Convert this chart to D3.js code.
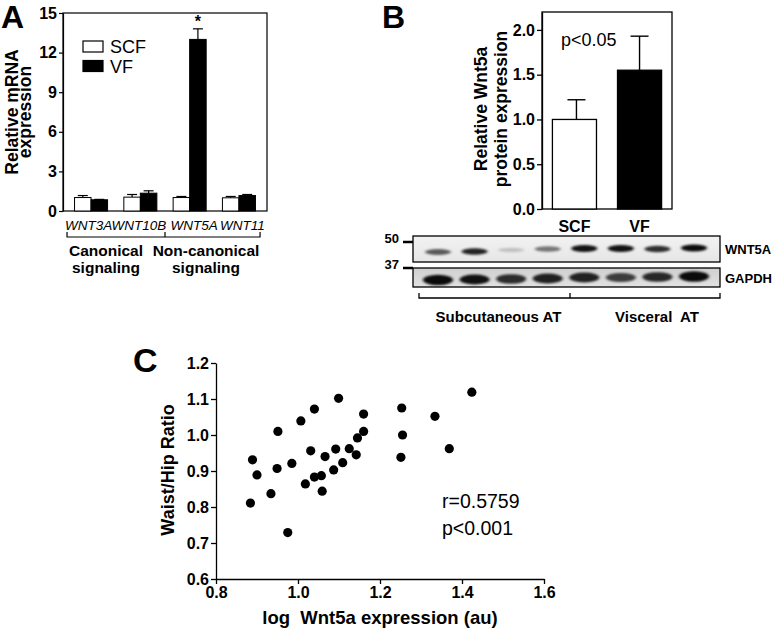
<!DOCTYPE html>
<html><head><meta charset="utf-8">
<script src="https://cdn.jsdelivr.net/npm/d3@7"></script>
<style>
html,body{margin:0;padding:0;background:#fff;}
text{font-family:"Liberation Sans",Arial,Helvetica,sans-serif;fill:#000;}
</style></head>
<body>
<svg id="fig" width="780" height="632"></svg>
<script>
// ---------- Panel A data ----------
const genes = ["WNT3A", "WNT10B", "WNT5A", "WNT11"];
const scfMean = [1.02, 1.05, 1.02, 1.0];
const scfErr = [0.15, 0.2, 0.08, 0.1];
const vfMean = [0.85, 1.35, 13.0, 1.17];
const vfErr = [0.03, 0.18, 0.8, 0.08];
const aTicks = [0, 3, 6, 9, 12, 15];
const aSeries = ["SCF", "VF"];
const aGroupLabels = [["Canonical", "signaling"], ["Non-canonical", "signaling"]];

// ---------- Panel B data ----------
const bGroups = ["SCF", "VF"];
const bMean = [1.0, 1.55];
const bErr = [0.22, 0.38];
const bTicks = [0, 0.5, 1.0, 1.5, 2.0];
const blotLanes = ["S1", "S2", "S3", "S4", "V1", "V2", "V3", "V4"];
const wnt5aBand = [0.62, 0.85, 0.18, 0.5, 0.92, 0.92, 0.8, 0.95];
const gapdhBand = [0.95, 0.92, 0.8, 0.85, 0.85, 0.72, 0.82, 0.95];
const blotProteins = ["WNT5A", "GAPDH"];
const blotMarkers = ["50", "37"];
const blotTissues = ["Subcutaneous AT", "Visceral  AT"];

// ---------- Panel C data ----------
const cX = [0.884, 0.889, 0.900, 0.934, 0.949, 0.951, 0.975, 0.985, 1.007, 1.018,
            1.031, 1.040, 1.040, 1.057, 1.059, 1.066, 1.087, 1.092, 1.099, 1.109,
            1.125, 1.142, 1.145, 1.160, 1.160, 1.251, 1.253, 1.255, 1.334, 1.369, 1.424];
const cY = [0.811, 0.931, 0.889, 0.837, 0.907, 1.010, 0.729, 0.921, 1.039, 0.864,
            0.956, 1.072, 0.883, 0.887, 0.844, 0.940, 0.903, 0.961, 1.102, 0.923,
            0.962, 0.945, 0.992, 1.058, 1.010, 0.938, 1.075, 1.000, 1.052, 0.962, 1.119];
const cXTicks = [0.8, 1.0, 1.2, 1.4, 1.6];
const cYTicks = [0.6, 0.7, 0.8, 0.9, 1.0, 1.1, 1.2];
const cStats = ["r=0.5759", "p<0.001"];

const svg = d3.select("#fig");
const BOLD = "bold";

// ================= Panel A =================
(function () {
  const L = 63, R = 267, T = 13, B = 211;
  const y = d3.scaleLinear().domain([0, 15]).range([B, T]);
  const x = d3.scaleBand().domain(genes).range([L, R]).paddingInner(0.33).paddingOuter(0.234);
  const bw = x.bandwidth() / 2;
  const g = svg.append("g");

  g.append("rect").attr("x", L).attr("y", T).attr("width", R - L).attr("height", B - T)
    .attr("fill", "none").attr("stroke", "#000").attr("stroke-width", 1.2);

  const ax = g.append("g").attr("transform", `translate(${L},0)`)
    .call(d3.axisLeft(y).tickValues(aTicks).tickSize(4).tickSizeOuter(0).tickPadding(2));
  ax.select(".domain").attr("stroke-width", 1.2);
  ax.selectAll(".tick line").attr("stroke-width", 1.2);
  ax.selectAll("text").attr("font-size", 16).attr("font-weight", BOLD)
    .attr("font-family", "Liberation Sans, Arial, sans-serif");

  const data = genes.map((gname, i) => ({ g: gname, s: scfMean[i], se: scfErr[i], v: vfMean[i], ve: vfErr[i] }));
  const bars = [];
  data.forEach(d => {
    bars.push({ x: x(d.g), val: d.s, err: d.se, fill: "#fff" });
    bars.push({ x: x(d.g) + bw, val: d.v, err: d.ve, fill: "#000" });
  });
  bars.forEach(b => {
    const cx = b.x + bw / 2;
    g.append("line").attr("x1", cx).attr("x2", cx).attr("y1", y(b.val)).attr("y2", y(b.val + b.err))
      .attr("stroke", "#000").attr("stroke-width", 1.2);
    g.append("line").attr("x1", cx - 5).attr("x2", cx + 5).attr("y1", y(b.val + b.err)).attr("y2", y(b.val + b.err))
      .attr("stroke", "#000").attr("stroke-width", 1.2);
  });
  g.selectAll("rect.bar").data(bars).join("rect").attr("class", "bar")
    .attr("x", d => d.x).attr("width", bw).attr("y", d => y(d.val)).attr("height", d => B - y(d.val))
    .attr("fill", d => d.fill).attr("stroke", "#000").attr("stroke-width", 1);

  g.append("text").attr("x", x("WNT5A") + bw * 1.5).attr("y", y(vfMean[2] + vfErr[2]) - 2)
    .attr("text-anchor", "middle").attr("font-size", 16).attr("font-weight", BOLD).text("*");

  aSeries.forEach((s, i) => {
    const ly = 41 + i * 19.5;
    g.append("rect").attr("x", 83).attr("y", ly).attr("width", 20).attr("height", 11)
      .attr("fill", i === 0 ? "#fff" : "#000").attr("stroke", "#000").attr("stroke-width", 1.2);
    g.append("text").attr("x", 110).attr("y", ly + 12).attr("font-size", 18).text(s);
  });

  const nudge = [-2.5, -1.5, 4.5, 3.5];
  genes.forEach((gn, i) => {
    g.append("text").attr("x", x(gn) + x.bandwidth() / 2 + nudge[i]).attr("y", 230).attr("text-anchor", "middle")
      .attr("font-size", 13.5).attr("font-style", "italic").text(gn);
  });
  const bl = x(genes[0]) - 7.5, br = x(genes[3]) + x.bandwidth() + 4.6;
  const bm = (x(genes[1]) + x.bandwidth() + x(genes[2])) / 2;
  const by = 237;
  g.append("path").attr("d", `M${bl},${by - 5}V${by}H${br}V${by - 5}M${bm},${by - 5}V${by}`)
    .attr("fill", "none").attr("stroke", "#000").attr("stroke-width", 1.2);
  const lc = [(bl + bm) / 2 - 10, (bm + br) / 2 - 6.5];
  aGroupLabels.forEach((lines, i) => {
    lines.forEach((t, j) => {
      g.append("text").attr("x", lc[i]).attr("y", 256 + j * 17).attr("text-anchor", "middle")
        .attr("font-size", 15.5).attr("font-weight", BOLD).text(t);
    });
  });

  const yl = g.append("g").attr("transform", "translate(18,112) rotate(-90)");
  yl.append("text").attr("text-anchor", "middle").attr("font-size", 17.5).attr("font-weight", BOLD).text("Relative mRNA");
  yl.append("text").attr("y", 13).attr("text-anchor", "middle").attr("font-size", 17.5).attr("font-weight", BOLD).text("expression");

  svg.append("text").attr("x", 1).attr("y", 28).attr("font-size", 32).attr("font-weight", BOLD).text("A");
})();

// ================= Panel B =================
(function () {
  const L = 542, R = 672, T = 12, B = 209;
  const y = d3.scaleLinear().domain([0, 2.2]).range([B, T]);
  const x = d3.scaleBand().domain(bGroups).range([L, R]).paddingInner(0.323).paddingOuter(0.16);
  const g = svg.append("g");

  g.append("rect").attr("x", L).attr("y", T).attr("width", R - L).attr("height", B - T)
    .attr("fill", "none").attr("stroke", "#000").attr("stroke-width", 1.3);

  const ax = g.append("g").attr("transform", `translate(${L},0)`)
    .call(d3.axisLeft(y).tickValues(bTicks).tickFormat(d3.format(".1f")).tickSize(5).tickSizeOuter(0).tickPadding(2));
  ax.select(".domain").attr("stroke-width", 1.3);
  ax.selectAll(".tick line").attr("stroke-width", 1.3);
  ax.selectAll("text").attr("font-size", 16).attr("font-weight", BOLD)
    .attr("font-family", "Liberation Sans, Arial, sans-serif");

  bGroups.forEach((gr, i) => {
    const cx = x(gr) + x.bandwidth() / 2 + (i === 0 ? 2 : 0);
    g.append("line").attr("x1", cx).attr("x2", cx).attr("y1", y(bMean[i])).attr("y2", y(bMean[i] + bErr[i]))
      .attr("stroke", "#000").attr("stroke-width", 1.4);
    g.append("line").attr("x1", cx - 9).attr("x2", cx + 9).attr("y1", y(bMean[i] + bErr[i])).attr("y2", y(bMean[i] + bErr[i]))
      .attr("stroke", "#000").attr("stroke-width", 1.4);
    g.append("rect").attr("x", x(gr)).attr("width", x.bandwidth()).attr("y", y(bMean[i])).attr("height", B - y(bMean[i]))
      .attr("fill", i === 0 ? "#fff" : "#000").attr("stroke", "#000").attr("stroke-width", 1.3);
    g.append("text").attr("x", x(gr) + x.bandwidth() / 2).attr("y", 232).attr("text-anchor", "middle")
      .attr("font-size", 16).attr("font-weight", BOLD).text(gr);
  });
  g.append("text").attr("x", 561).attr("y", 46).attr("font-size", 18).text("p<0.05");

  const yl = g.append("g").attr("transform", "translate(487,109) rotate(-90)");
  yl.append("text").attr("text-anchor", "middle").attr("font-size", 17.5).attr("font-weight", BOLD).text("Relative Wnt5a");
  yl.append("text").attr("y", 20).attr("text-anchor", "middle").attr("font-size", 17.5).attr("font-weight", BOLD).text("protein expression");

  svg.append("text").attr("x", 382).attr("y", 28).attr("font-size", 32).attr("font-weight", BOLD).text("B");

  // ---- western blot ----
  const defs = svg.append("defs");
  defs.append("filter").attr("id", "blur").attr("x", "-50%").attr("y", "-100%").attr("width", "200%").attr("height", "300%")
    .append("feGaussianBlur").attr("stdDeviation", "1.6 1.1");
  const gr1 = defs.append("linearGradient").attr("id", "bg1").attr("x1", 0).attr("x2", 0).attr("y1", 0).attr("y2", 1);
  gr1.append("stop").attr("offset", 0).attr("stop-color", "#f2f2f2");
  gr1.append("stop").attr("offset", 1).attr("stop-color", "#e6e6e6");
  const gr2 = defs.append("linearGradient").attr("id", "bg2").attr("x1", 0).attr("x2", 0).attr("y1", 0).attr("y2", 1);
  gr2.append("stop").attr("offset", 0).attr("stop-color", "#cfcfcf");
  gr2.append("stop").attr("offset", 1).attr("stop-color", "#e2e2e2");

  const lx = d3.scalePoint().domain(blotLanes).range([438, 694]);
  const boxL = 413, boxR = 720;
  const boxes = [{ y0: 236, y1: 262, bg: "url(#bg1)", vals: wnt5aBand, by: [252, 251.5, 250, 249, 248.5, 248.5, 249, 248], ry: 3.2, rx: 13 },
                 { y0: 268, y1: 287, bg: "url(#bg2)", vals: gapdhBand, by: [280, 279.5, 279, 278.5, 277.5, 277.5, 277, 276.5], ry: 4.8, rx: 15 }];
  boxes.forEach((bx, k) => {
    const bg = svg.append("g");
    bg.append("rect").attr("x", boxL).attr("y", bx.y0).attr("width", boxR - boxL).attr("height", bx.y1 - bx.y0)
      .attr("fill", bx.bg);
    const bandG = bg.append("g").attr("filter", "url(#blur)");
    blotLanes.forEach((ln, i) => {
      bandG.append("ellipse").attr("cx", lx(ln)).attr("cy", bx.by[i])
        .attr("rx", bx.rx).attr("ry", bx.ry * (0.6 + 0.5 * bx.vals[i]))
        .attr("fill", "#000").attr("opacity", bx.vals[i]);
    });
    bg.append("rect").attr("x", boxL).attr("y", bx.y0).attr("width", boxR - boxL).attr("height", bx.y1 - bx.y0)
      .attr("fill", "none").attr("stroke", "#000").attr("stroke-width", 1.3);
    bg.append("text").attr("x", 725).attr("y", (bx.y0 + bx.y1) / 2 + 5).attr("font-size", 13).attr("font-weight", BOLD)
      .text(blotProteins[k]);
    const my = k === 0 ? 242 : 268;
    bg.append("line").attr("x1", 403).attr("x2", 413).attr("y1", my).attr("y2", my).attr("stroke", "#000").attr("stroke-width", 2.5);
    bg.append("text").attr("x", 399).attr("y", my + 1).attr("text-anchor", "end").attr("font-size", 13).attr("font-weight", BOLD)
      .text(blotMarkers[k]);
  });
  const bl = lx(blotLanes[0]) - 19, br = lx(blotLanes[7]) + 26;
  const bm = (lx(blotLanes[3]) + lx(blotLanes[4])) / 2 + 4;
  svg.append("path").attr("d", `M${bl},293V298H${br}V293M${bm},293V298`).attr("fill", "none")
    .attr("stroke", "#000").attr("stroke-width", 1.3);
  svg.append("text").attr("x", (bl + bm) / 2 + 4).attr("y", 322).attr("text-anchor", "middle")
    .attr("font-size", 15).attr("font-weight", BOLD).text(blotTissues[0]);
  svg.append("text").attr("x", (bm + br) / 2 + 12).attr("y", 322).attr("text-anchor", "middle")
    .attr("font-size", 15).attr("font-weight", BOLD).style("white-space", "pre").text(blotTissues[1]);
})();

// ================= Panel C =================
(function () {
  const L = 216, R = 544, T = 363, B = 579;
  const x = d3.scaleLinear().domain([0.8, 1.6]).range([L, R]);
  const y = d3.scaleLinear().domain([0.6, 1.2]).range([B, T]);
  const g = svg.append("g");

  const ax = g.append("g").attr("transform", `translate(0,${B})`)
    .call(d3.axisBottom(x).tickValues(cXTicks).tickFormat(d3.format(".1f")).tickSize(5).tickSizeOuter(0).tickPadding(3));
  const ay = g.append("g").attr("transform", `translate(${L},0)`)
    .call(d3.axisLeft(y).tickValues(cYTicks).tickFormat(d3.format(".1f")).tickSize(5).tickSizeOuter(0).tickPadding(2));
  [ax, ay].forEach(a => {
    a.select(".domain").attr("stroke-width", 1.3);
    a.selectAll(".tick line").attr("stroke-width", 1.3);
    a.selectAll("text").attr("font-size", 16).attr("font-weight", BOLD)
      .attr("font-family", "Liberation Sans, Arial, sans-serif");
  });

  const pts = cX.map((v, i) => ({ x: v, y: cY[i] }));
  g.selectAll("circle").data(pts).join("circle")
    .attr("cx", d => x(d.x)).attr("cy", d => y(d.y)).attr("r", 4.6).attr("fill", "#000");

  cStats.forEach((t, i) => {
    g.append("text").attr("x", 442).attr("y", 508 + i * 27).attr("font-size", 19.5).text(t);
  });

  g.append("text").attr("x", (L + R) / 2).attr("y", 624).attr("text-anchor", "middle")
    .attr("font-size", 18.5).attr("font-weight", BOLD).style("white-space", "pre").text("log  Wnt5a expression (au)");
  g.append("text").attr("transform", "translate(174,470) rotate(-90)").attr("text-anchor", "middle")
    .attr("font-size", 18).attr("font-weight", BOLD).text("Waist/Hip Ratio");

  svg.append("text").attr("x", 133).attr("y", 372).attr("font-size", 34).attr("font-weight", BOLD).text("C");
})();
</script>
</body></html>
